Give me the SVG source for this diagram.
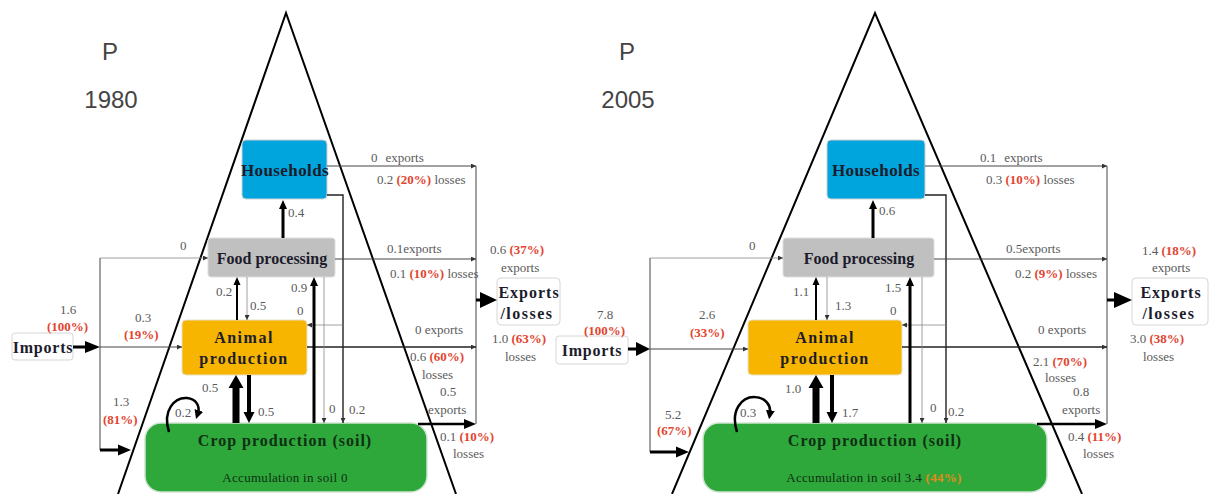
<svg xmlns="http://www.w3.org/2000/svg" width="1217" height="494" viewBox="0 0 1217 494">
<defs>
<style>
.tri{fill:none;stroke:#000;stroke-width:2}
.thin{fill:none;stroke:#444;stroke-width:1}
.faint{fill:none;stroke:#888;stroke-width:0.8}
.dark{fill:none;stroke:#222;stroke-width:1.4}
.thick{fill:#000;stroke:none}
.loop{fill:none;stroke:#000;stroke-width:2.5}
.t{font-family:"Liberation Serif",serif;font-size:13px;fill:#5a5a5a}
.r{fill:#E2452F;font-weight:bold}
.o{fill:#E08A1E;font-weight:bold}
.n{font-family:"Liberation Serif",serif;font-weight:bold;font-size:16px;fill:#1c1c2c;text-anchor:middle}
.ttl{font-family:"Liberation Sans",sans-serif;font-size:24px;fill:#444;text-anchor:middle}
.hh{fill:#00A5DE;stroke:#d0d0d0;stroke-width:1}
.fp{fill:#C0C0C0;stroke:#dddddd;stroke-width:1}
.ap{fill:#F7B500;stroke:#e8e0c8;stroke-width:1}
.cp{fill:#2EA83A;stroke:#cfe3cf;stroke-width:1.5}
.wb{fill:#fff;stroke:#d6d6d6;stroke-width:1}
.cpt{font-family:"Liberation Serif",serif;font-weight:bold;font-size:16px;fill:#0f2f14;text-anchor:middle;letter-spacing:1px}
.acc{font-family:"Liberation Serif",serif;font-size:13px;fill:#0f2f14;text-anchor:middle;letter-spacing:0.3px}
</style>
<marker id="s" viewBox="0 0 6 6" refX="6" refY="3" markerWidth="5" markerHeight="5" markerUnits="userSpaceOnUse" orient="auto"><path d="M0,0L6,3L0,6z" fill="#333"/></marker>
<marker id="lp" viewBox="0 0 10 10" refX="3" refY="5" markerWidth="9" markerHeight="9" markerUnits="userSpaceOnUse" orient="auto"><path d="M0,0L10,5L0,10z" fill="#000"/></marker>
</defs>
<rect width="1217" height="494" fill="#fff"/>

<g id="titles">
<text class="ttl" x="110" y="60">P</text>
<text class="ttl" x="111" y="108">1980</text>
<text class="ttl" x="627" y="60">P</text>
<text class="ttl" x="628" y="108">2005</text>
</g>

<g id="triangles">
<path class="tri" d="M118,494 L286,13 L456,494"/>
<path class="tri" d="M672,494 L875,13 L1082,494"/>
</g>

<!-- 1980 nodes -->
<g id="households-1980"><rect class="hh" x="242" y="140" width="85" height="59" rx="4"/><text class="n" x="285" y="176" style="font-size:17px;letter-spacing:0.4px">Households</text></g>
<g id="foodprocessing-1980"><rect class="fp" x="208" y="238" width="127" height="39" rx="3"/><text class="n" x="272" y="264">Food processing</text></g>
<g id="animal-1980"><rect class="ap" x="182" y="320" width="125" height="55" rx="4"/><text class="n" x="244" y="343" style="letter-spacing:1.5px">Animal</text><text class="n" x="244" y="364" style="letter-spacing:1.4px">production</text></g>
<g id="crop-1980"><rect class="cp" x="145" y="423" width="282" height="69" rx="16"/><text class="cpt" x="285" y="446">Crop production (soil)</text><text class="acc" x="285" y="482">Accumulation in soil 0</text></g>
<g id="imports-1980"><rect class="wb" x="12" y="333" width="61" height="27" rx="3"/><text class="n" x="43" y="353" style="letter-spacing:0.8px">Imports</text></g>
<g id="exports-1980"><rect class="wb" x="497" y="278" width="63" height="47" rx="4"/><text class="n" x="529" y="298" style="letter-spacing:1px">Exports</text><text class="n" x="527" y="319" style="letter-spacing:1.5px">/losses</text></g>

<!-- 2005 nodes -->
<g id="households-2005"><rect class="hh" x="827" y="140" width="98" height="59" rx="4"/><text class="n" x="876" y="176" style="font-size:17px;letter-spacing:0.4px">Households</text></g>
<g id="foodprocessing-2005"><rect class="fp" x="783" y="238" width="151" height="39" rx="3"/><text class="n" x="859" y="264">Food processing</text></g>
<g id="animal-2005"><rect class="ap" x="748" y="320" width="154" height="55" rx="4"/><text class="n" x="825" y="343" style="letter-spacing:1.5px">Animal</text><text class="n" x="825" y="364" style="letter-spacing:1.4px">production</text></g>
<g id="crop-2005"><rect class="cp" x="703" y="423" width="344" height="69" rx="16"/><text class="cpt" x="875" y="446">Crop production (soil)</text><text class="acc" x="874" y="482">Accumulation in soil 3.4 <tspan class="o">(44%)</tspan></text></g>
<g id="imports-2005"><rect class="wb" x="556" y="336" width="72" height="28" rx="3"/><text class="n" x="592" y="356" style="letter-spacing:0.8px">Imports</text></g>
<g id="exports-2005"><rect class="wb" x="1132" y="278" width="76" height="47" rx="4"/><text class="n" x="1171" y="298" style="letter-spacing:1px">Exports</text><text class="n" x="1169" y="319" style="letter-spacing:1.5px">/losses</text></g>

<g id="connectors">
<!-- 1980 -->
<path class="thin" d="M100,258 V450"/>
<path class="faint" d="M100,258 H208" marker-end="url(#s)"/>
<path class="thin" d="M100,347 H182" marker-end="url(#s)"/>
<path class="thin" d="M327,166 H476" marker-end="url(#s)"/>
<path class="dark" d="M327,195 H343 V423" marker-end="url(#s)"/>
<path class="thin" d="M476,166 V424"/>
<path class="thin" d="M335,259 H476" marker-end="url(#s)"/>
<path class="dark" d="M307,347 H476" marker-end="url(#s)"/>
<path class="faint" d="M343,325 H307" marker-end="url(#s)"/>
<path class="faint" d="M247,277 V320" marker-end="url(#s)"/>
<path class="faint" d="M324,277 V423" marker-end="url(#s)"/>
<path class="thick" d="M281.5,238 V209 H279 L283,200 L287,209 H284.5 V238 Z"/>
<path class="thick" d="M312.5,423 V286 H310 L314,277 L318,286 H315.5 V423 Z"/>
<path class="thick" d="M236,320 V285 H233.5 L237,277 L240.5,285 H238 V320 Z"/>
<path class="thick" d="M232.5,423 V388 H228.5 L236,375 L243.5,388 H239.5 V423 Z"/>
<path class="thick" d="M247,375 V412 H243.5 L249,423 L254.5,412 H251 V375 Z"/>
<path class="thick" d="M73,345.5 H85 V341 L100,347 L85,353 V348.5 H73 Z"/>
<path class="thick" d="M100,448.5 H118 V444.5 L131,450 L118,455.5 V451.5 H100 Z"/>
<path class="thick" d="M418,422.8 H464 V419 L476,424 L464,429 V425.2 H418 Z"/>
<path class="thick" d="M476,298.5 H480 V292 L497,300 L480,308 V301.5 H476 Z"/>
<path class="loop" d="M169,432 C162,410 175,397 187,398 C197,399 200,407 198,413" marker-end="url(#lp)"/>
<!-- 2005 -->
<path class="thin" d="M650,258 V452"/>
<path class="faint" d="M650,258 H783" marker-end="url(#s)"/>
<path class="thin" d="M650,349 H748" marker-end="url(#s)"/>
<path class="thin" d="M925,166 H1107" marker-end="url(#s)"/>
<path class="dark" d="M925,195 H946 V423" marker-end="url(#s)"/>
<path class="thin" d="M1107,166 V424"/>
<path class="thin" d="M934,259 H1107" marker-end="url(#s)"/>
<path class="dark" d="M902,347 H1107" marker-end="url(#s)"/>
<path class="faint" d="M946,325 H902" marker-end="url(#s)"/>
<path class="faint" d="M827,277 V320" marker-end="url(#s)"/>
<path class="faint" d="M922,277 V423" marker-end="url(#s)"/>
<path class="thick" d="M871.5,238 V209 H869 L873,200 L877,209 H874.5 V238 Z"/>
<path class="thick" d="M908.5,423 V286 H906 L910,277 L914,286 H911.5 V423 Z"/>
<path class="thick" d="M815,320 V285 H812.5 L816,277 L819.5,285 H817 V320 Z"/>
<path class="thick" d="M812.5,423 V388 H808.5 L816,375 L823.5,388 H819.5 V423 Z"/>
<path class="thick" d="M830,375 V412 H826.5 L832,423 L837.5,412 H834 V375 Z"/>
<path class="thick" d="M628,347.5 H636 V342 L650,349 L636,356 V350.5 H628 Z"/>
<path class="thick" d="M650,450.5 H676 V446.5 L689,452 L676,457.5 V453.5 H650 Z"/>
<path class="thick" d="M1037,422.8 H1095 V419 L1107,424 L1095,429 V425.2 H1037 Z"/>
<path class="thick" d="M1107,298.5 H1114 V292 L1132,300 L1114,308 V301.5 H1107 Z"/>
<path class="loop" d="M737,432 C730,410 742,397 754,397 C766,397 771,406 770,413" marker-end="url(#lp)"/>
</g>

<g id="labels-1980">
<text class="t" x="180" y="250">0</text>
<text class="t" x="371" y="162">0<tspan dx="8">exports</tspan></text>
<text class="t" x="377" y="184">0.2 <tspan class="r">(20%)</tspan> losses</text>
<text class="t" x="288" y="217">0.4</text>
<text class="t" x="387" y="253">0.1exports</text>
<text class="t" x="390" y="278">0.1 <tspan class="r">(10%)</tspan> losses</text>
<text class="t" x="490" y="254">0.6 <tspan class="r">(37%)</tspan></text>
<text class="t" x="501" y="272">exports</text>
<text class="t" x="216" y="296">0.2</text>
<text class="t" x="250" y="310">0.5</text>
<text class="t" x="291" y="292">0.9</text>
<text class="t" x="297" y="315">0</text>
<text class="t" x="202" y="392">0.5</text>
<text class="t" x="258" y="416">0.5</text>
<text class="t" x="329" y="413">0</text>
<text class="t" x="349" y="414">0.2</text>
<text class="t" x="175" y="417">0.2</text>
<text class="t" x="60" y="314">1.6</text>
<text class="t r" x="47" y="331">(100%)</text>
<text class="t" x="135" y="322">0.3</text>
<text class="t r" x="124" y="339">(19%)</text>
<text class="t" x="113" y="406">1.3</text>
<text class="t r" x="103" y="424">(81%)</text>
<text class="t" x="415" y="334">0 exports</text>
<text class="t" x="492" y="343">1.0 <tspan class="r">(63%)</tspan></text>
<text class="t" x="505" y="361">losses</text>
<text class="t" x="410" y="361">0.6 <tspan class="r">(60%)</tspan></text>
<text class="t" x="422" y="379">losses</text>
<text class="t" x="440" y="396">0.5</text>
<text class="t" x="428" y="414">exports</text>
<text class="t" x="440" y="441">0.1 <tspan class="r">(10%)</tspan></text>
<text class="t" x="453" y="458">losses</text>
</g>

<g id="labels-2005">
<text class="t" x="749" y="250">0</text>
<text class="t" x="980" y="162">0.1<tspan dx="8">exports</tspan></text>
<text class="t" x="986" y="184">0.3 <tspan class="r">(10%)</tspan> losses</text>
<text class="t" x="879" y="215">0.6</text>
<text class="t" x="1006" y="253">0.5exports</text>
<text class="t" x="1015" y="278">0.2 <tspan class="r">(9%)</tspan> losses</text>
<text class="t" x="1142" y="255">1.4 <tspan class="r">(18%)</tspan></text>
<text class="t" x="1152" y="272">exports</text>
<text class="t" x="793" y="296">1.1</text>
<text class="t" x="835" y="310">1.3</text>
<text class="t" x="885" y="292">1.5</text>
<text class="t" x="890" y="315">0</text>
<text class="t" x="785" y="393">1.0</text>
<text class="t" x="842" y="417">1.7</text>
<text class="t" x="930" y="412">0</text>
<text class="t" x="948" y="416">0.2</text>
<text class="t" x="740" y="417">0.3</text>
<text class="t" x="597" y="319">7.8</text>
<text class="t r" x="584" y="335">(100%)</text>
<text class="t" x="699" y="319">2.6</text>
<text class="t r" x="690" y="337">(33%)</text>
<text class="t" x="665" y="419">5.2</text>
<text class="t r" x="657" y="435">(67%)</text>
<text class="t" x="1038" y="334">0 exports</text>
<text class="t" x="1130" y="343">3.0 <tspan class="r">(38%)</tspan></text>
<text class="t" x="1143" y="361">losses</text>
<text class="t" x="1033" y="366">2.1 <tspan class="r">(70%)</tspan></text>
<text class="t" x="1045" y="382">losses</text>
<text class="t" x="1073" y="396">0.8</text>
<text class="t" x="1062" y="414">exports</text>
<text class="t" x="1068" y="441">0.4 <tspan class="r">(11%)</tspan></text>
<text class="t" x="1083" y="458">losses</text>
</g>
</svg>
